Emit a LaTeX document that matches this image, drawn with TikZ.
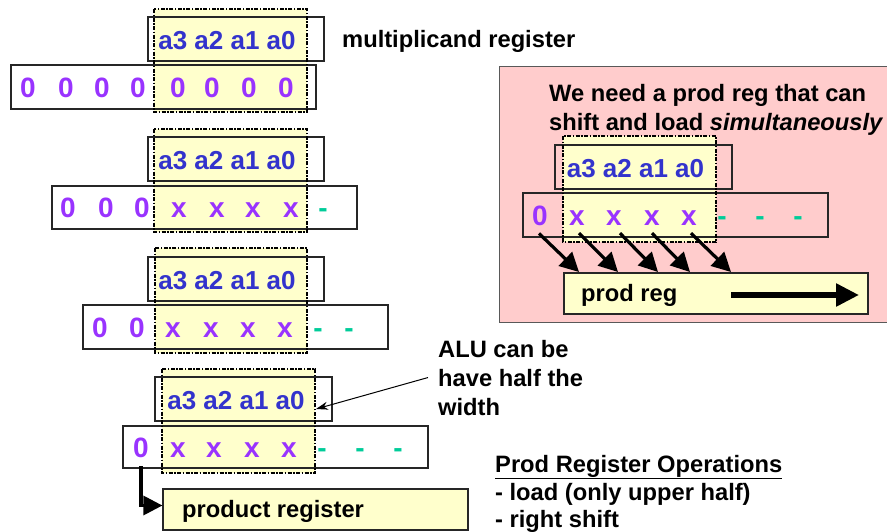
\documentclass[tikz,border=0pt]{standalone}
\usepackage{fontspec}
\setmainfont{Liberation Sans}
\usetikzlibrary{arrows.meta}
\definecolor{abit}{HTML}{3333CC}
\definecolor{pbit}{HTML}{9933FF}
\definecolor{dbit}{HTML}{00CC99}
\definecolor{hilite}{HTML}{FFFFCC}
\definecolor{panel}{HTML}{FFCCCC}
\begin{document}
\begin{tikzpicture}[x=1pt,y=-1pt,
  reg/.style={draw=black!85,line width=1.2pt},
  half/.style={draw=black,line width=1.4pt,dash pattern=on 4pt off 1.5pt on 1.5pt off 1.5pt},
  mcand/.style={anchor=base,inner sep=0pt,font=\fontsize{26}{30}\selectfont\bfseries,text=abit},
  bit/.style={anchor=base,inner sep=0pt,font=\fontsize{28}{32}\selectfont\bfseries,text=pbit},
  dbitst/.style={bit,text=dbit},
  lbl/.style={anchor=base west,inner sep=0pt,font=\fontsize{23.7}{28}\selectfont\bfseries},
  fat/.style={line width=3.2pt,-{Triangle[length=19pt,width=19pt]}},
  boxnode/.style={reg,fill=hilite,inner sep=0pt},
]
\useasboundingbox (0,0) rectangle (887,531);
\clip (0,0) rectangle (887,531);

% ---- step 1
\fill[hilite] (154,9) rectangle (307,112);
\draw[reg] (148,17) rectangle (324,61);
\draw[reg] (11,65) rectangle (316,109);
\node[mcand] (m1) at (227,49) {a3 a2 a1 a0};
\foreach \x [count=\i] in {28,66,102,138,178,212,249,286}
  \node[bit] (g1b\i) at (\x,97) {0};
\draw[half] (154,9) rectangle (307,112);
\node[lbl] (mreg) at (342,47) {multiplicand register};

% ---- step 2
\fill[hilite] (154,129) rectangle (307,232);
\draw[reg] (148,137) rectangle (324,181);
\draw[reg] (52,186) rectangle (357,229);
\node[mcand] (m2) at (227,169) {a3 a2 a1 a0};
\foreach \x [count=\i] in {68,106,142}
  \node[bit] (g2z\i) at (\x,217) {0};
\foreach \x [count=\i] in {179,217,253,291}
  \node[bit] (g2x\i) at (\x,217) {x};
\node[dbitst] (g2d1) at (323,217) {-};
\draw[half] (154,129) rectangle (307,232);

% ---- step 3
\fill[hilite] (155,248) rectangle (307,353);
\draw[reg] (148,257) rectangle (324,301);
\draw[reg] (83,305) rectangle (388,349);
\node[mcand] (m3) at (227,289) {a3 a2 a1 a0};
\foreach \x [count=\i] in {100,137}
  \node[bit] (g3z\i) at (\x,337) {0};
\foreach \x [count=\i] in {173,211,248,285}
  \node[bit] (g3x\i) at (\x,337) {x};
\foreach \x [count=\i] in {318,349}
  \node[dbitst] (g3d\i) at (\x,337) {-};
\draw[half] (155,248) rectangle (307,353);

% ---- step 4
\fill[hilite] (162,369) rectangle (315,473);
\draw[reg] (155,377) rectangle (332,421);
\draw[reg] (123,426) rectangle (428,468);
\node[mcand] (m4) at (236,409) {a3 a2 a1 a0};
\node[bit] (g4z1) at (141,457) {0};
\foreach \x [count=\i] in {178,214,252,289}
  \node[bit] (g4x\i) at (\x,457) {x};
\foreach \x [count=\i] in {322,360,398}
  \node[dbitst] (g4d\i) at (\x,457) {-};
\draw[half] (162,369) rectangle (315,473);
\coordinate (alutip) at (316,409);

\node[boxnode,minimum width=305pt,minimum height=41pt] (preg) at (315.5,509.5) {};
\node[lbl] (pregtxt) at (182,517) {product register};
\draw[fat] ([yshift=-9pt]g4z1.south) |- ([yshift=4pt]preg.west);

% ---- ALU note
\node[lbl] (alu1) at (438,357) {ALU can be};
\node[lbl] (alu2) at (438,386) {have half the};
\node[lbl] (alu3) at (438,415) {width};
\draw[line width=1pt,-{Stealth[length=12pt,width=8pt]}] ([xshift=-10pt]alu2.west) -- (alutip);

% ---- operations list
\node[lbl] (ops1) at (495,472) {\underline{Prod Register Operations}};
\node[lbl] (ops2) at (495,500) {- load (only upper half)};
\node[lbl] (ops3) at (495,527) {- right shift};

% ---- simultaneous shift and load panel
\draw[fill=panel,draw=black!65,line width=1pt] (499,66) rectangle (900,322);
\node[lbl] (need1) at (549,101) {We need a prod reg that can};
\node[lbl] (need2) at (549,130) {shift and load \textit{simultaneously}};
\fill[hilite] (563,136) rectangle (716,242);
\draw[reg] (555,145) rectangle (732,189);
\draw[reg] (523,193) rectangle (828,237);
\node[mcand] (m5) at (635.5,177) {a3 a2 a1 a0};
\node[bit] (p0) at (540,225) {0};
\foreach \x [count=\i] in {577,614,652,689}
  \node[bit] (px\i) at (\x,225) {x};
\foreach \x [count=\i] in {722,760,798}
  \node[dbitst] (pd\i) at (\x,225) {-};
\draw[half] (563,136) rectangle (716,242);

\node[boxnode,minimum width=304pt,minimum height=41pt] (preg2) at (716,293.5) {};
\node[lbl] (preg2txt) at (581,301) {prod reg};
\coordinate (sh1) at (731,295);
\coordinate (sh2) at (859,295);
\draw[line width=5.5pt,-{Triangle[length=23pt,width=22pt]}] (sh1) -- (sh2);

\coordinate (k1) at (579,272);
\coordinate (k2) at (618,272);
\coordinate (k3) at (658,272);
\coordinate (k4) at (690,272);
\coordinate (k5) at (731,272);
\draw[fat] ([yshift=-8pt]p0.south) ++(-1,0) -- (k1);
\draw[fat] ([yshift=-8pt]px1.south) ++(2,0) -- (k2);
\draw[fat] ([yshift=-8pt]px2.south) ++(6,0) -- (k3);
\draw[fat] ([yshift=-8pt]px3.south) -- (k4);
\draw[fat] ([yshift=-8pt]px4.south) ++(2,0) -- (k5);
\end{tikzpicture}
\end{document}
